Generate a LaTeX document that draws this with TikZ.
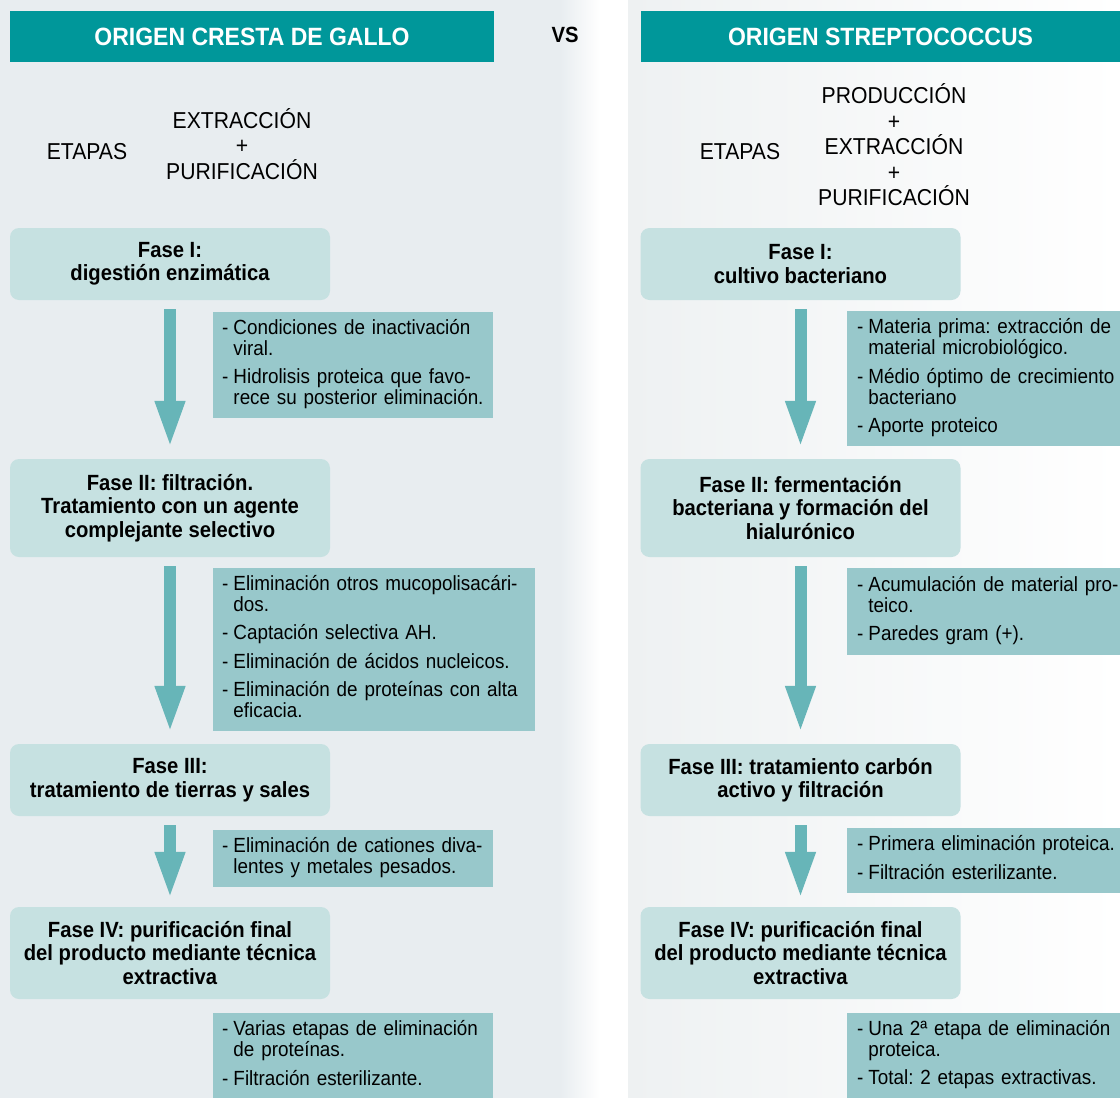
\documentclass[tikz,border=0pt]{standalone}
\usepackage{fontspec}
\setmainfont[FakeStretch=0.92]{Liberation Sans}
\usetikzlibrary{arrows.meta}
\frenchspacing

\definecolor{tituloc}{HTML}{00979A}
\definecolor{fasec}{HTML}{C6E1E1}
\definecolor{notac}{HTML}{98C8CB}
\definecolor{flechac}{HTML}{67B5B8}
\definecolor{fondoc}{HTML}{E8EDF0}
\definecolor{fondod}{HTML}{EEF1F2}

\newcommand{\lista}[1]{\noindent\begin{tabular}{@{}l@{\hspace{5pt}}l@{}}#1\end{tabular}}

\tikzset{
  titulo/.style={fill=tituloc, text=white, minimum height=51pt, inner sep=0pt,
    font=\fontsize{25}{27}\selectfont\bfseries},
  fase/.style={fill=fasec, rounded corners=9pt, minimum width=320pt, inner sep=0pt,
    align=center, font=\fontsize{22}{23.5}\selectfont\bfseries},
  nota/.style={fill=notac, anchor=north west, align=left, inner xsep=9pt, inner ysep=0pt,
    font=\fontsize{20.5}{21}\selectfont},
  etapa/.style={align=center, font=\fontsize{23}{25.5}\selectfont},
  flujo/.style={draw=flechac, line width=12pt, shorten <=9pt, shorten >=10pt,
    -{Triangle[width=27pt,length=48pt]}}
}

\begin{document}
\begin{tikzpicture}[x=1pt,y=-1pt]
  \useasboundingbox (0,0) rectangle (1120,1098);
  \clip (0,0) rectangle (1120,1098);

  % fondo
  \fill[fondoc] (0,0) rectangle (560,1098);
  \shade[left color=fondoc, right color=white] (560,0) rectangle (600,1098);
  \shade[left color=fondod, right color=white] (628,0) rectangle (1120,1098);

  % cabeceras
  \node[titulo, minimum width=484pt] (tizq) at (252,36.5) {ORIGEN CRESTA DE GALLO};
  \node[titulo, minimum width=479pt] (tder) at (880.5,36.5) {ORIGEN STREPTOCOCCUS};
  \node[font=\fontsize{22}{24}\selectfont\bfseries] (vs) at (565,35) {VS};

  \node[etapa] (eizq) at (87,152) {ETAPAS};
  \node[etapa] (pizq) at (242,144) {EXTRACCIÓN\\+\\PURIFICACIÓN};
  \node[etapa] (eder) at (740,152) {ETAPAS};
  \node[etapa] (pder) at (894,145) {PRODUCCIÓN\\+\\EXTRACCIÓN\\+\\PURIFICACIÓN};

  % fases cresta de gallo
  \node[fase, minimum height=72pt] (i1) at (170,264) {Fase I:\\digestión enzimática};
  \node[fase, minimum height=98pt] (i2) at (170,508) {Fase II: filtración.\\Tratamiento con un agente\\complejante selectivo};
  \node[fase, minimum height=72pt] (i3) at (170,780) {Fase III:\\tratamiento de tierras y sales};
  \node[fase, minimum height=92pt] (i4) at (170,953) {Fase IV: purificación final\\del producto mediante técnica\\extractiva};

  % fases streptococcus
  \node[fase, minimum height=72pt] (d1) at (800.5,264) {Fase I:\\cultivo bacteriano};
  \node[fase, minimum height=98pt] (d2) at (800.5,508) {Fase II: fermentación\\bacteriana y formación del\\hialurónico};
  \node[fase, minimum height=72pt] (d3) at (800.5,780) {Fase III: tratamiento carbón\\activo y filtración};
  \node[fase, minimum height=92pt] (d4) at (800.5,953) {Fase IV: purificación final\\del producto mediante técnica\\extractiva};

  % notas cresta de gallo
  \node[nota, text width=262pt, minimum height=106pt] (ni1) at (213,312)
    {\lista{- & Condiciones de inactivación\\ & viral.\\[7pt]
            - & Hidrolisis proteica que favo-\\ & rece su posterior eliminación.}};
  \node[nota, text width=304pt, minimum height=163pt] (ni2) at (213,568)
    {\lista{- & Eliminación otros mucopolisacári-\\ & dos.\\[7pt]
            - & Captación selectiva AH.\\[7pt]
            - & Eliminación de ácidos nucleicos.\\[7pt]
            - & Eliminación de proteínas con alta\\ & eficacia.}};
  \node[nota, text width=262pt, minimum height=57pt] (ni3) at (213,830)
    {\lista{- & Eliminación de cationes diva-\\ & lentes y metales pesados.}};
  \node[nota, text width=262pt, minimum height=85pt] (ni4) at (213,1013)
    {\lista{- & Varias etapas de eliminación\\ & de proteínas.\\[7pt]
            - & Filtración esterilizante.}};

  % notas streptococcus
  \node[nota, inner xsep=10pt, text width=265pt, minimum height=135pt] (nd1) at (847,311)
    {\lista{- & Materia prima: extracción de\\ & material microbiológico.\\[7pt]
            - & Médio óptimo de crecimiento\\ & bacteriano\\[7pt]
            - & Aporte proteico}};
  \node[nota, inner xsep=10pt, text width=265pt, minimum height=87pt] (nd2) at (847,568)
    {\lista{- & Acumulación de material pro-\\ & teico.\\[7pt]
            - & Paredes gram (+).}};
  \node[nota, inner xsep=10pt, text width=265pt, minimum height=65pt] (nd3) at (847,828)
    {\lista{- & Primera eliminación proteica.\\[7pt]
            - & Filtración esterilizante.}};
  \node[nota, inner xsep=10pt, text width=265pt, minimum height=85pt] (nd4) at (847,1013)
    {\lista{- & Una 2ª etapa de eliminación\\ & proteica.\\[7pt]
            - & Total: 2 etapas extractivas.}};

  % flechas
  \draw[flujo] (i1) -- (i2);
  \draw[flujo] (i2) -- (i3);
  \draw[flujo, shorten >=7pt] (i3) -- (i4);
  \draw[flujo] (d1) -- (d2);
  \draw[flujo] (d2) -- (d3);
  \draw[flujo, shorten >=7pt] (d3) -- (d4);
\end{tikzpicture}
\end{document}
